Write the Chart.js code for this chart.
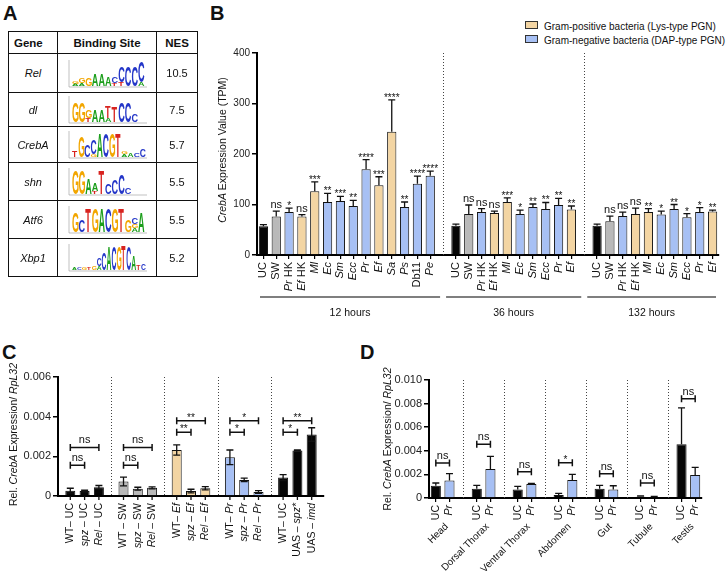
<!DOCTYPE html>
<html>
<head>
<meta charset="utf-8">
<script src="https://cdn.jsdelivr.net/npm/chart.js@4/dist/chart.umd.min.js"></script>
<style>
body { margin:0; width:727px; height:574px; position:relative; background:#fff; overflow:hidden;
       font-family:"Liberation Sans", Arial, sans-serif; color:#111; }
canvas.ch { position:absolute; }
.plab { position:absolute; font-weight:bold; font-size:20px; line-height:20px; }
#tab { position:absolute; left:8px; top:31px; border-collapse:collapse; }
#tab th, #tab td { border:1.5px solid #111; padding:0; text-align:center; }
#tab th { font-size:11.5px; font-weight:bold; height:21px; }
#tab td { font-size:11px; }
.leg { position:absolute; font-size:10px; line-height:13px; white-space:nowrap; }
.leg span { display:inline-block; width:11px; height:6px; border:1px solid #333; margin-right:6px; vertical-align:1px; }
</style>
</head>
<body>
<div class="plab" style="left:3px;top:3px">A</div>
<div class="plab" style="left:210px;top:3px">B</div>
<div class="plab" style="left:2px;top:342px">C</div>
<div class="plab" style="left:360px;top:342px">D</div>

<table id="tab">
  <colgroup><col style="width:49px"><col style="width:99px"><col style="width:41px"></colgroup>
  <tr><th style="text-align:left;padding-left:5px">Gene</th><th>Binding Site</th><th>NES</th></tr>
</table>

<div class="leg" style="left:525px;top:20px"><span style="background:#f3d5a3"></span>Gram-positive bacteria (Lys-type PGN)</div>
<div class="leg" style="left:525px;top:34px"><span style="background:#a7c0f4"></span>Gram-negative bacteria (DAP-type PGN)</div>

<canvas id="chartB" class="ch" width="527" height="285" style="left:200px;top:40px"></canvas>
<canvas id="chartC" class="ch" width="340" height="214" style="left:0px;top:360px"></canvas>
<canvas id="chartD" class="ch" width="377" height="214" style="left:350px;top:360px"></canvas>

<script>
// ---------- Panel A data ----------
const aGenes = ['Rel', 'dl', 'CrebA', 'shn', 'Atf6', 'Xbp1'];
const aNES = ['10.5', '7.5', '5.7', '5.5', '5.5', '5.2'];
// motif logos: columns, each one stacked bottom -> top as [letter, height]
const aLogos = [
  [[['A',2],['G',3]],[['A',3],['G',5]],[['G',8]],[['A',12]],[['A',12]],[['A',9]],[['T',3],['C',6]],[['T',4],['C',16]],[['C',20]],[['C',20]],[['A',4],['C',22]]],
  [[['G',20]],[['G',20]],[['T',4],['G',8]],[['A',12]],[['A',12]],[['A',4],['T',12]],[['T',16]],[['C',20]],[['C',20]],[['C',8]]],
  [[['T',6]],[['G',22]],[['C',12]],[['G',3],['C',14]],[['A',24]],[['C',24]],[['G',24]],[['T',24]],[['A',3],['G',3]],[['A',4]],[['C',4]],[['C',8]]],
  [[['G',24]],[['G',24]],[['A',16]],[['T',3],['A',8]],[['T',24]],[['C',10]],[['C',14]],[['C',20]],[['C',6]]],
  [[['G',20]],[['C',12]],[['T',24]],[['G',24]],[['A',24]],[['C',24]],[['G',24]],[['T',24]],[['G',12]],[['A',4],['G',4],['C',6]],[['A',20]]],
  [[['A',3]],[['C',2]],[['G',2]],[['T',2]],[['G',4]],[['A',4],['C',8]],[['C',18]],[['A',24]],[['C',24]],[['G',24]],[['T',26]],[['C',24]],[['A',14]],[['T',5]],[['C',6]]]
];
const aRowHeights = [39, 34, 36, 38, 38, 38];

// ---------- Panel B data (TPM) ----------
const h12Labels = ['UC', 'SW', 'Pr HK', 'Ef HK', 'Ml', 'Ec', 'Sm', 'Ecc', 'Pr', 'Ef', 'Sa', 'Ps', 'Db11', 'Pe'];
const h12Values = [57, 76, 85, 76, 126, 105, 107, 97, 170, 138, 244, 95, 141, 157];
const h12Errors = [3, 11, 8, 4, 19, 17, 9, 11, 19, 17, 63, 10, 15, 9];
const h12Sig = ['', 'ns', '*', 'ns', '***', '**', '***', '**', '****', '***', '****', '**', '****', '****'];

const h36Labels = ['UC', 'SW', 'Pr HK', 'Ef HK', 'Ml', 'Ec', 'Sm', 'Ecc', 'Pr', 'Ef'];
const h36Values = [58, 81, 85, 83, 105, 81, 95, 91, 99, 90];
const h36Errors = [3, 18, 7, 4, 8, 8, 6, 13, 13, 7];
const h36Sig = ['', 'ns', 'ns', 'ns', '***', '*', '**', '**', '**', '**'];

const h132Labels = ['UC', 'SW', 'Pr HK', 'Ef HK', 'Ml', 'Ec', 'Sm', 'Ecc', 'Pr', 'Ef'];
const h132Values = [58, 67, 77, 81, 85, 80, 91, 75, 85, 86];
const h132Errors = [3, 10, 8, 12, 7, 7, 9, 7, 9, 3];
const h132Sig = ['', 'ns', 'ns', 'ns', '**', '*', '**', '*', '*', '**'];

const bGroupNames = ['12 hours', '36 hours', '132 hours'];
const bTicks = [0, 100, 200, 300, 400];

// ---------- Panel C data ----------
const cLabels = ['WT– UC', 'spz – UC', 'Rel – UC', 'WT – SW', 'spz – SW', 'Rel – SW', 'WT– Ef', 'spz – Ef', 'Rel – Ef',
                 'WT– Pr', 'spz – Pr', 'Rel – Pr', 'WT– UC', 'UAS – spz*', 'UAS – imd'];
const cValues = [0.00027, 0.00025, 0.00044, 0.00073, 0.00037, 0.00041, 0.00232, 0.00025, 0.00039,
                 0.00195, 0.00081, 0.00020, 0.00093, 0.00229, 0.00310];
const cErrors = [0.00012, 0.00004, 0.00009, 0.00022, 0.00007, 0.00005, 0.00026, 0.00009, 0.00008,
                 0.00037, 0.00009, 0.00007, 0.00015, 0.00003, 0.00034];
const cShortSig = ['ns', 'ns', '**', '*', '*'];
const cLongSig = ['ns', 'ns', '**', '*', '**'];
const cShortLevel = [0.00155, 0.00155, 0.00322, 0.00322, 0.00322];
const cLongLevel = [0.00245, 0.00245, 0.00380, 0.00380, 0.00380];
const cTicks = [0, 0.002, 0.004, 0.006];

// ---------- Panel D data ----------
const dTissues = ['Head', 'Dorsal Thorax', 'Ventral Thorax', 'Abdomen', 'Gut', 'Tubule', 'Testis'];
const dUC = [0.00104, 0.00079, 0.00073, 0.00025, 0.00079, 0.00011, 0.00456];
const dUCErr = [0.00023, 0.00028, 0.00026, 0.00014, 0.00028, 0.00006, 0.00307];
const dPr = [0.00149, 0.00245, 0.00118, 0.00152, 0.00073, 0.00008, 0.00194];
const dPrErr = [0.00057, 0.00107, 0.00006, 0.00048, 0.00031, 0.00006, 0.00065];
const dSig = ['ns', 'ns', 'ns', '*', 'ns', 'ns', 'ns'];
const dLevel = [0.00296, 0.00456, 0.00223, 0.00299, 0.00206, 0.00127, 0.00842];
const dTicks = [0, 0.002, 0.004, 0.006, 0.008, 0.010];

// ---------- styles ----------
const FONT = '"Liberation Sans", Arial, sans-serif';
const COL = { k: '#060606', g: '#b9b9b9', t: '#f3d5a3', b: '#a7c0f4' };
const bColorOf = { 'UC': 'k', 'SW': 'g', 'Pr HK': 'b', 'Ef HK': 't', 'Ml': 't', 'Ec': 'b', 'Sm': 'b', 'Ecc': 'b',
                   'Pr': 'b', 'Ef': 't', 'Sa': 't', 'Ps': 'b', 'Db11': 'b', 'Pe': 'b' };
const cGroupColor = ['k', 'g', 't', 'b', 'k'];
const italicTerms = new Set(['Pr', 'Ef', 'Ml', 'Ec', 'Sm', 'Ecc', 'Sa', 'Ps', 'Pe', 'spz', 'Rel', 'imd', 'spz*', 'CrebA', 'RpL32']);
const letterColor = { A: '#1b9e1b', C: '#2436c8', G: '#f2a600', T: '#d8231f' };

// ---------- Panel A table ----------
const tab = document.getElementById('tab');
aGenes.forEach((g, i) => {
  const tr = document.createElement('tr');
  tr.style.height = aRowHeights[i] + 'px';
  const td1 = document.createElement('td');
  td1.innerHTML = '<i>' + g + '</i>';
  const td2 = document.createElement('td');
  const cv = document.createElement('canvas');
  cv.width = 84; cv.height = 31;
  cv.style.display = 'block'; cv.style.margin = '0 auto';
  td2.appendChild(cv);
  const td3 = document.createElement('td');
  td3.textContent = aNES[i];
  tr.append(td1, td2, td3);
  tab.appendChild(tr);
  drawLogo(cv, aLogos[i]);
});

function drawLogo(cv, cols) {
  const ctx = cv.getContext('2d');
  const base = cv.height - 3;
  ctx.strokeStyle = '#999';
  ctx.lineWidth = 0.6;
  ctx.beginPath();
  ctx.moveTo(4, 2); ctx.lineTo(4, base + 1);
  ctx.moveTo(4, base + 1); ctx.lineTo(cv.width - 2, base + 1);
  ctx.stroke();
  const step = Math.min(6.6, (cv.width - 10) / cols.length);
  let x = 7;
  cols.forEach(col => {
    let y = base;
    col.forEach(([ch, h]) => {
      ctx.save();
      ctx.translate(x, y);
      ctx.scale(step / 14.5, h / 14.5);
      ctx.font = 'bold 20px ' + FONT;
      ctx.fillStyle = letterColor[ch];
      ctx.fillText(ch, 0, 0);
      ctx.restore();
      y -= h;
    });
    x += step;
  });
}

// ---------- helpers ----------
function drawRich(ctx, text, x, y, angle, size, align) {
  const parts = text.split(/(\s+)/).filter(s => s.length).map(s => ({ t: s, i: italicTerms.has(s) }));
  ctx.save();
  ctx.translate(x, y);
  ctx.rotate(angle);
  ctx.textBaseline = 'middle';
  ctx.textAlign = 'left';
  ctx.fillStyle = '#111';
  let total = 0;
  parts.forEach(p => {
    ctx.font = (p.i ? 'italic ' : '') + size + 'px ' + FONT;
    p.w = ctx.measureText(p.t).width;
    total += p.w;
  });
  let cx = align === 'right' ? -total : (align === 'center' ? -total / 2 : 0);
  parts.forEach(p => {
    ctx.font = (p.i ? 'italic ' : '') + size + 'px ' + FONT;
    ctx.fillText(p.t, cx, 0);
    cx += p.w;
  });
  ctx.restore();
}

function drawErr(ctx, x, ys, v, e, cap, both) {
  const yt = ys.getPixelForValue(v + e);
  const yb = ys.getPixelForValue(both ? v - e : v);
  ctx.beginPath();
  ctx.moveTo(x, yb); ctx.lineTo(x, yt);
  ctx.moveTo(x - cap, yt); ctx.lineTo(x + cap, yt);
  if (both) { ctx.moveTo(x - cap, yb); ctx.lineTo(x + cap, yb); }
  ctx.stroke();
  return yt;
}

function sigText(ctx, text, x, y) {
  ctx.save();
  ctx.textAlign = 'center';
  ctx.textBaseline = 'alphabetic';
  ctx.fillStyle = '#111';
  if (text === 'ns') {
    ctx.font = '11px ' + FONT;
    ctx.fillText(text, x, y);
  } else {
    ctx.font = '10px ' + FONT;
    ctx.fillText(text, x, y + 4);
  }
  ctx.restore();
}

function dotted(ctx, x, top, bottom) {
  ctx.save();
  ctx.strokeStyle = '#444';
  ctx.lineWidth = 1;
  ctx.setLineDash([1, 2]);
  ctx.beginPath();
  ctx.moveTo(Math.round(x) + 0.5, top);
  ctx.lineTo(Math.round(x) + 0.5, bottom);
  ctx.stroke();
  ctx.restore();
}

function bracket(ctx, x1, x2, y, text) {
  ctx.save();
  ctx.strokeStyle = '#111';
  ctx.lineWidth = 1.5;
  ctx.beginPath();
  ctx.moveTo(x1, y); ctx.lineTo(x2, y);
  ctx.moveTo(x1, y - 3.5); ctx.lineTo(x1, y + 3.5);
  ctx.moveTo(x2, y - 3.5); ctx.lineTo(x2, y + 3.5);
  ctx.stroke();
  ctx.restore();
  sigText(ctx, text, (x1 + x2) / 2, y - 4);
}

function yAxis(max, ticks, width, size) {
  return {
    min: 0, max: max,
    afterBuildTicks(s) { s.ticks = ticks.map(v => ({ value: v })); },
    ticks: {
      color: '#222', font: { family: FONT, size: size }, padding: 2,
      callback: v => (v === 0 ? '0' : (max < 1 ? v.toFixed(3) : String(v)))
    },
    grid: { drawOnChartArea: false, tickLength: 5, color: '#000', lineWidth: 1.5 },
    border: { color: '#000', width: 2 },
    afterFit(s) { s.width = width; }
  };
}

function xAxis(height, showTick) {
  return {
    grid: {
      drawOnChartArea: false, offset: false, tickLength: 4, lineWidth: 1.2,
      color: '#000', tickColor: c => (showTick(c.index) ? '#000' : 'rgba(0,0,0,0)')
    },
    ticks: { display: false },
    border: { color: '#000', width: 2 },
    afterFit(s) { s.height = height; }
  };
}

const baseOpts = {
  responsive: false,
  animation: false,
  plugins: { legend: { display: false }, tooltip: { enabled: false } }
};

// ---------- Panel B ----------
const bGroups = [
  { labels: h12Labels, values: h12Values, errors: h12Errors, sig: h12Sig },
  { labels: h36Labels, values: h36Values, errors: h36Errors, sig: h36Sig },
  { labels: h132Labels, values: h132Values, errors: h132Errors, sig: h132Sig }
];
const bLabels = [], bValues = [], bErrors = [], bSig = [], bColors = [], bGapIdx = [];
bGroups.forEach((g, gi) => {
  if (gi > 0) {
    bGapIdx.push(bLabels.length);
    bLabels.push(''); bValues.push(null); bErrors.push(null); bSig.push(''); bColors.push('rgba(0,0,0,0)');
  }
  g.labels.forEach((l, i) => {
    bLabels.push(l); bValues.push(g.values[i]); bErrors.push(g.errors[i]); bSig.push(g.sig[i]);
    bColors.push(COL[bColorOf[l]]);
  });
});

new Chart(document.getElementById('chartB'), {
  type: 'bar',
  data: {
    labels: bLabels,
    datasets: [{ data: bValues, backgroundColor: bColors, borderColor: '#111', borderWidth: 1,
                 barPercentage: 0.72, categoryPercentage: 1 }]
  },
  options: Object.assign({}, baseOpts, {
    layout: { padding: { top: 13, right: 8, left: 0, bottom: 0 } },
    scales: {
      x: xAxis(70, i => !bGapIdx.includes(i)),
      y: yAxis(400, bTicks, 57, 10)
    }
  }),
  plugins: [{
    id: 'panelB',
    afterDatasetsDraw(chart) {
      const ctx = chart.ctx, xs = chart.scales.x, ys = chart.scales.y, area = chart.chartArea;
      const meta = chart.getDatasetMeta(0);
      ctx.save();
      ctx.strokeStyle = '#111';
      ctx.lineWidth = 1.3;
      bValues.forEach((v, i) => {
        if (v === null) return;
        const x = meta.data[i].x;
        const yt = drawErr(ctx, x, ys, v, bErrors[i], 3.5, false);
        if (bSig[i]) sigText(ctx, bSig[i], x, yt - 3);
      });
      ctx.restore();
      // dotted separators
      const seps = bGapIdx.map(i => xs.getPixelForValue(i));
      seps.forEach(x => dotted(ctx, x, area.top, area.bottom));
      // tick labels
      bLabels.forEach((l, i) => {
        if (!l) return;
        drawRich(ctx, l, xs.getPixelForValue(i), area.bottom + 7, -Math.PI / 2, 11, 'right');
      });
      // group lines + names
      const bounds = [area.left, ...seps, area.right];
      ctx.save();
      ctx.strokeStyle = '#555';
      ctx.lineWidth = 1.5;
      bGroupNames.forEach((name, gi) => {
        const x1 = bounds[gi] + 3, x2 = bounds[gi + 1] - 3;
        ctx.beginPath();
        ctx.moveTo(x1, area.bottom + 42); ctx.lineTo(x2, area.bottom + 42);
        ctx.stroke();
        ctx.fillStyle = '#111';
        ctx.font = '10.5px ' + FONT;
        ctx.textAlign = 'center';
        ctx.textBaseline = 'middle';
        ctx.fillText(name, (x1 + x2) / 2, area.bottom + 58);
      });
      ctx.restore();
      // y title
      drawRich(ctx, 'CrebA Expression Value (TPM)', 23, (area.top + area.bottom) / 2 - 4, -Math.PI / 2, 10.5, 'center');
    }
  }]
});

// ---------- Panel C ----------
const cGroupCount = cLabels.length / 3;
const cGroupKeys = Array.from({ length: cGroupCount }, (_, g) => 'g' + g);
const cDatasets = [0, 1, 2].map(d => ({
  data: cGroupKeys.map((_, g) => cValues[g * 3 + d]),
  backgroundColor: cGroupColor.map(c => COL[c]),
  borderColor: '#111', borderWidth: 1,
  barPercentage: 0.7, categoryPercentage: 0.806
}));

new Chart(document.getElementById('chartC'), {
  type: 'bar',
  data: { labels: cGroupKeys, datasets: cDatasets },
  options: Object.assign({}, baseOpts, {
    layout: { padding: { top: 17, right: 16, left: 0, bottom: 0 } },
    scales: {
      x: xAxis(78, () => false),
      y: yAxis(0.006, cTicks, 58, 11)
    }
  }),
  plugins: [{
    id: 'panelC',
    afterDatasetsDraw(chart) {
      const ctx = chart.ctx, xs = chart.scales.x, ys = chart.scales.y, area = chart.chartArea;
      const barX = (g, d) => chart.getDatasetMeta(d).data[g].x;
      ctx.save();
      ctx.strokeStyle = '#111';
      ctx.lineWidth = 1.3;
      cGroupKeys.forEach((_, g) => {
        [0, 1, 2].forEach(d => {
          const idx = g * 3 + d, x = barX(g, d);
          drawErr(ctx, x, ys, cValues[idx], cErrors[idx], 3.5, true);
          ctx.beginPath();
          ctx.moveTo(x, area.bottom); ctx.lineTo(x, area.bottom + 4);
          ctx.stroke();
          drawRich(ctx, cLabels[idx], x, area.bottom + 7, -Math.PI / 2, 10.5, 'right');
        });
        bracket(ctx, barX(g, 0), barX(g, 1), ys.getPixelForValue(cShortLevel[g]), cShortSig[g]);
        bracket(ctx, barX(g, 0), barX(g, 2), ys.getPixelForValue(cLongLevel[g]), cLongSig[g]);
        if (g > 0) dotted(ctx, (xs.getPixelForValue(g - 1) + xs.getPixelForValue(g)) / 2, area.top, area.bottom);
      });
      ctx.restore();
      drawRich(ctx, 'Rel. CrebA Expression/ RpL32', 14, (area.top + area.bottom) / 2 - 2, -Math.PI / 2, 10.5, 'center');
    }
  }]
});

// ---------- Panel D ----------
const dLabels = [], dValues = [], dErrors = [], dColors = [], dTissueOf = [];
dTissues.forEach((t, i) => {
  dLabels.push('UC'); dValues.push(dUC[i]); dErrors.push(dUCErr[i]); dColors.push(COL.k); dTissueOf.push(i);
  dLabels.push('Pr'); dValues.push(dPr[i]); dErrors.push(dPrErr[i]); dColors.push(COL.b); dTissueOf.push(i);
  if (i < dTissues.length - 1) {
    dLabels.push(''); dValues.push(null); dErrors.push(null); dColors.push('rgba(0,0,0,0)'); dTissueOf.push(-1);
  }
});

new Chart(document.getElementById('chartD'), {
  type: 'bar',
  data: {
    labels: dLabels,
    datasets: [{ data: dValues, backgroundColor: dColors, borderColor: '#111', borderWidth: 1,
                 barPercentage: 0.74, categoryPercentage: 1 }]
  },
  options: Object.assign({}, baseOpts, {
    layout: { padding: { top: 20, right: 25, left: 0, bottom: 0 } },
    scales: {
      x: xAxis(76, i => dLabels[i] !== ''),
      y: yAxis(0.010, dTicks, 79, 11)
    }
  }),
  plugins: [{
    id: 'panelD',
    afterDatasetsDraw(chart) {
      const ctx = chart.ctx, xs = chart.scales.x, ys = chart.scales.y, area = chart.chartArea;
      ctx.save();
      ctx.strokeStyle = '#111';
      ctx.lineWidth = 1.3;
      dValues.forEach((v, i) => {
        const x = xs.getPixelForValue(i);
        if (v === null) { dotted(ctx, x, area.top, area.bottom); return; }
        drawErr(ctx, x, ys, v, dErrors[i], 3.5, false);
        drawRich(ctx, dLabels[i], x, area.bottom + 7, -Math.PI / 2, 10.5, 'right');
      });
      ctx.restore();
      dTissues.forEach((t, ti) => {
        const i0 = dTissueOf.indexOf(ti);
        const x1 = xs.getPixelForValue(i0), x2 = xs.getPixelForValue(i0 + 1);
        bracket(ctx, x1, x2, ys.getPixelForValue(dLevel[ti]), dSig[ti]);
        drawRich(ctx, t, (x1 + x2) / 2 + 4, area.bottom + 27, -Math.PI / 4, 10, 'right');
      });
      drawRich(ctx, 'Rel. CrebA Expression/ RpL32', 38, (area.top + area.bottom) / 2, -Math.PI / 2, 10.5, 'center');
    }
  }]
});
</script>
</body>
</html>
